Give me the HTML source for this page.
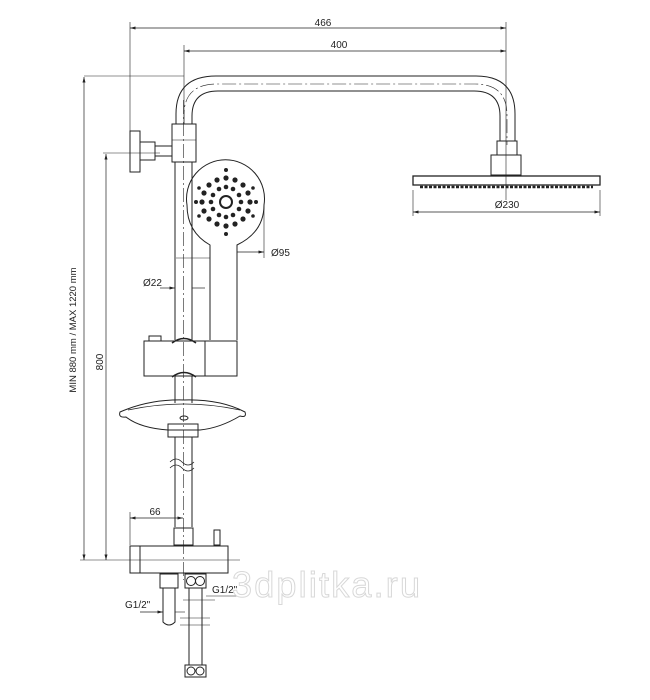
<!DOCTYPE html>
<html><head><style>body{margin:0;background:#fff}svg{display:block}</style></head>
<body>
<svg width="650" height="700" viewBox="0 0 650 700" xmlns="http://www.w3.org/2000/svg" font-family="Liberation Sans, sans-serif" font-size="10" fill="none" stroke="#222" stroke-width="1">
<defs><marker id="a" markerWidth="8" markerHeight="6" refX="8" refY="3" orient="auto-start-reverse"><path d="M0,0.8 L8,3 L0,5.2" fill="#222" stroke="none"/></marker></defs>
<line x1="130" y1="28" x2="506" y2="28" marker-start="url(#a)" marker-end="url(#a)" stroke-width="0.7"/>
<line x1="184" y1="51" x2="506" y2="51" marker-start="url(#a)" marker-end="url(#a)" stroke-width="0.7"/>
<line x1="130" y1="22" x2="130" y2="132" stroke-width="0.6"/>
<line x1="184" y1="45" x2="184" y2="124" stroke-width="0.6"/>
<line x1="506" y1="22" x2="506" y2="200" stroke-width="0.6"/>
<text x="323" y="26" fill="#222" stroke="none" text-anchor="middle">466</text>
<text x="339" y="48" fill="#222" stroke="none" text-anchor="middle">400</text>
<line x1="84" y1="76" x2="184" y2="76" stroke-width="0.6"/>
<line x1="84" y1="77" x2="84" y2="560" marker-start="url(#a)" marker-end="url(#a)" stroke-width="0.7"/>
<line x1="103" y1="153" x2="160" y2="153" stroke-width="0.6"/>
<line x1="106" y1="154" x2="106" y2="560" marker-start="url(#a)" marker-end="url(#a)" stroke-width="0.7"/>
<line x1="80" y1="560" x2="240" y2="560" stroke-width="0.6"/>
<text transform="translate(76,330) rotate(-90)" fill="#222" stroke="none" text-anchor="middle" font-size="9.5">MIN 880 mm / MAX 1220 mm</text>
<text transform="translate(103,362) rotate(-90)" fill="#222" stroke="none" text-anchor="middle">800</text>
<path d="M176,124 L176,114 Q176,76 216,76 L476,76 Q515,76 515,114 L515,141"/>
<path d="M192,124 L192,116 Q192,91 218,91 L474,91 Q500,91 500,116 L500,141"/>
<path d="M184,124 L184,115 Q184,84 217,84 L475,84 Q507,84 507,115 L507,145" stroke-dasharray="14,3,2,3" stroke-width="0.6"/>
<rect x="497" y="141" width="20" height="14"/>
<rect x="491" y="155" width="30" height="20"/>
<rect x="413" y="176" width="187" height="9" stroke-width="1.3"/>
<line x1="420" y1="187" x2="593" y2="187" stroke-width="2.5" stroke-dasharray="3,1.5"/>
<line x1="413" y1="190" x2="413" y2="216" stroke-width="0.6"/>
<line x1="600" y1="190" x2="600" y2="216" stroke-width="0.6"/>
<line x1="413" y1="212" x2="600" y2="212" marker-start="url(#a)" marker-end="url(#a)" stroke-width="0.7"/>
<text x="507" y="208" fill="#222" stroke="none" text-anchor="middle">Ø230</text>
<rect x="130" y="131" width="10" height="41"/>
<rect x="140" y="142" width="15" height="18"/>
<line x1="155" y1="146" x2="172" y2="146"/><line x1="155" y1="156" x2="172" y2="156"/>
<rect x="172" y="124" width="24" height="38"/>
<line x1="172" y1="140" x2="196" y2="140" stroke-width="0.6"/>
<line x1="175" y1="162" x2="175" y2="340"/><line x1="192" y1="162" x2="192" y2="340"/>
<line x1="175" y1="376" x2="175" y2="403"/><line x1="192" y1="376" x2="192" y2="403"/>
<line x1="175" y1="437" x2="175" y2="527"/><line x1="192" y1="437" x2="192" y2="527"/>
<line x1="183.5" y1="100" x2="183.5" y2="580" stroke-dasharray="14,3,2,3" stroke-width="0.6"/>
<path d="M170,462 q6,-6 12,0 t12,0 M170,468 q6,-6 12,0 t12,0" stroke-width="0.8"/>
<path d="M210,340 L210,245 Q187,232 187,205 A39,39 0 1 1 264,205 Q264,232 237,245 L237,340"/>
<g fill="#222" stroke="none">
<circle cx="226" cy="178" r="2.6"/><circle cx="217" cy="180" r="2.6"/><circle cx="235" cy="180" r="2.6"/><circle cx="209" cy="185" r="2.6"/><circle cx="243" cy="185" r="2.6"/><circle cx="204" cy="193" r="2.6"/><circle cx="248" cy="193" r="2.6"/><circle cx="202" cy="202" r="2.6"/><circle cx="250" cy="202" r="2.6"/><circle cx="204" cy="211" r="2.6"/><circle cx="248" cy="211" r="2.6"/><circle cx="209" cy="219" r="2.6"/><circle cx="243" cy="219" r="2.6"/><circle cx="217" cy="224" r="2.6"/><circle cx="235" cy="224" r="2.6"/><circle cx="226" cy="226" r="2.6"/>
<circle cx="226" cy="187" r="2.3"/><circle cx="219" cy="189" r="2.3"/><circle cx="233" cy="189" r="2.3"/><circle cx="213" cy="195" r="2.3"/><circle cx="239" cy="195" r="2.3"/><circle cx="211" cy="202" r="2.3"/><circle cx="241" cy="202" r="2.3"/><circle cx="213" cy="209" r="2.3"/><circle cx="239" cy="209" r="2.3"/><circle cx="219" cy="215" r="2.3"/><circle cx="233" cy="215" r="2.3"/><circle cx="226" cy="217" r="2.3"/>
<circle cx="226" cy="170" r="2"/><circle cx="196" cy="202" r="2"/><circle cx="256" cy="202" r="2"/><circle cx="226" cy="234" r="2"/><circle cx="199" cy="188" r="1.8"/><circle cx="253" cy="188" r="1.8"/><circle cx="199" cy="216" r="1.8"/><circle cx="253" cy="216" r="1.8"/>
</g>
<circle cx="226" cy="202" r="6" stroke-width="2"/>
<line x1="264" y1="205" x2="264" y2="258" stroke-width="0.6"/>
<line x1="237" y1="252" x2="264" y2="252" marker-end="url(#a)" stroke-width="0.7"/>
<text x="271" y="256" fill="#222" stroke="none">Ø95</text>
<line x1="160" y1="288" x2="175" y2="288" marker-end="url(#a)" stroke-width="0.7"/>
<line x1="192" y1="288" x2="205" y2="288" stroke-width="0.7"/>
<line x1="176" y1="258" x2="210" y2="258" stroke-width="0.6"/>
<text x="143" y="286" fill="#222" stroke="none">Ø22</text>
<rect x="144" y="341" width="61" height="35"/>
<rect x="205" y="341" width="32" height="35"/>
<rect x="149" y="336" width="12" height="5"/>
<path d="M172,343 Q184,334 196,343 M172,377 Q184,368 196,377" stroke-width="1.5"/>
<path d="M120,412 Q150,399 184,400 Q220,399 245,412 Q247,418 240,416 Q220,428 200,430 L168,430 Q140,428 126,417 Q118,418 120,412 Z"/>
<path d="M128,410 Q184,398 240,410" stroke-width="0.7"/>
<ellipse cx="184" cy="418" rx="4" ry="2"/>
<rect x="168" y="424" width="30" height="13"/>
<line x1="130" y1="518" x2="183" y2="518" marker-start="url(#a)" marker-end="url(#a)" stroke-width="0.7"/>
<line x1="130" y1="512" x2="130" y2="545" stroke-width="0.6"/>
<text x="155" y="515" fill="#222" stroke="none" text-anchor="middle">66</text>
<rect x="174" y="528" width="19" height="17"/>
<rect x="214" y="530" width="6" height="15"/>
<rect x="130" y="546" width="98" height="27"/>
<line x1="140" y1="546" x2="140" y2="573"/>
<rect x="160" y="574" width="18" height="14"/>
<path d="M163,588 L163,622 Q169,628 175,622 L175,588"/>
<rect x="185" y="574" width="21" height="14"/>
<circle cx="191" cy="581" r="4.5"/><circle cx="200" cy="581" r="4.5"/>
<line x1="189" y1="588" x2="189" y2="665"/><line x1="202" y1="588" x2="202" y2="665"/>
<rect x="185" y="665" width="21" height="12"/>
<circle cx="191" cy="671" r="4"/><circle cx="200" cy="671" r="4"/>
<line x1="183" y1="600" x2="215" y2="600" stroke-width="0.6"/>
<line x1="206" y1="596" x2="240" y2="596" stroke-width="0.6"/>
<line x1="140" y1="612" x2="163" y2="612" marker-end="url(#a)" stroke-width="0.7"/>
<line x1="175" y1="612" x2="185" y2="612" stroke-width="0.6"/>
<line x1="180" y1="618" x2="210" y2="618" stroke-width="0.6"/>
<line x1="180" y1="625" x2="210" y2="625" stroke-width="0.6"/>
<text x="212" y="593" fill="#222" stroke="none">G1/2"</text>
<text x="125" y="608" fill="#222" stroke="none">G1/2"</text>
<text x="232" y="597" fill="#fff" stroke="#d8d8d8" stroke-width="1" font-size="36" textLength="188">3dplitka.ru</text>
</svg>
</body></html>
